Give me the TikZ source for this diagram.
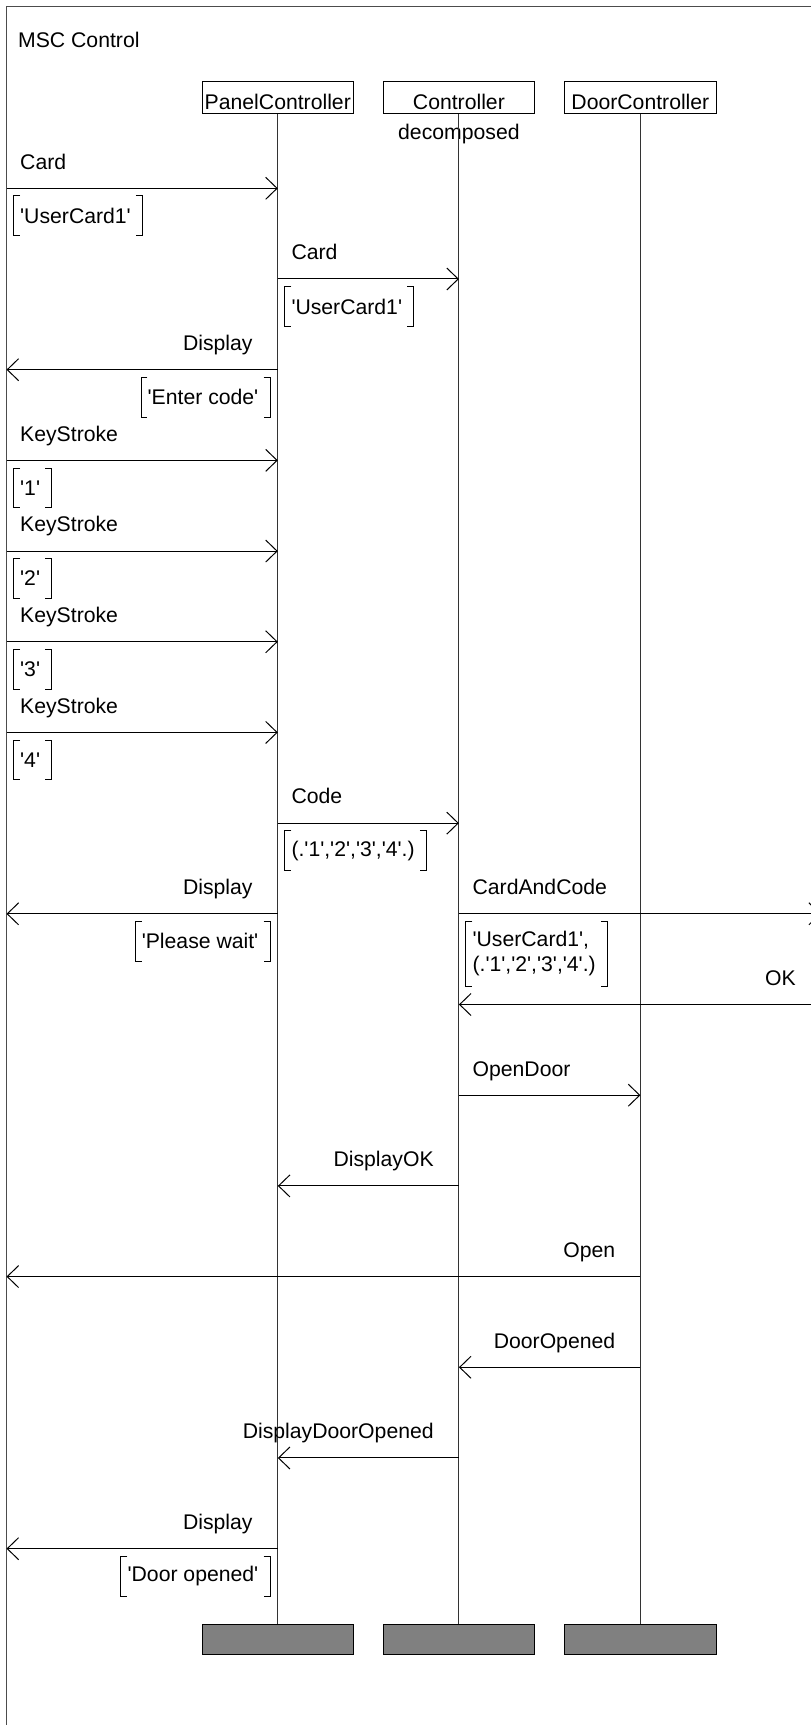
\documentclass[tikz,border=0pt]{standalone}
\usepackage{fontspec}
\setmainfont{Liberation Sans}[Ligatures=TeXOff]
\usetikzlibrary{arrows.meta}

\begin{document}
\begin{tikzpicture}[
    x=1pt, y=-1pt,
    font=\fontsize{21.2}{24.4}\selectfont,
    frame/.style={draw=black!70, line width=1pt},
    head/.style={rectangle, draw, line width=1pt, minimum width=151.5pt, minimum height=31.3pt, inner sep=0pt, text height=28pt, text depth=3.3pt},
    tail/.style={rectangle, draw, line width=1pt, fill=black!50, minimum width=151.5pt, minimum height=30pt, inner sep=0pt},
    lifeline/.style={draw=black!80, line width=1pt},
    msg/.style={draw, line width=1pt, -{Straight Barb[length=11.4pt, width=22pt]}},
    lbl/.style={inner sep=0pt},
    param/.style={rectangle, inner xsep=6.5pt, inner ysep=10pt, minimum height=39.3pt, align=left},
    bracket/.style={draw, line width=0.9pt}
]

\useasboundingbox (0,0) rectangle (811,1725);
\clip (0,0) rectangle (811,1725);

% Frame
\draw[frame] (6.5,6.5) rectangle (840,1760);
\node[lbl, anchor=base west] (title) at (18,47.5) {MSC Control};

% Instances
\node[head] (P) at (277.8,97.6) {PanelController};
\node[head] (C) at (458.9,97.6) {Controller};
\node[head] (D) at (640.4,97.6) {DoorController};
\node[lbl, anchor=base] (dec) at (458.9,139.5) {decomposed};

\node[tail] (P-end) at (277.8,1639.3) {};
\node[tail] (C-end) at (458.9,1639.3) {};
\node[tail] (D-end) at (640.4,1639.3) {};

\foreach \i in {P,C,D}
    \draw[lifeline] (\i) -- (\i-end);

% Message levels
\foreach \k in {0,...,15} {
    \pgfmathsetmacro{\y}{188.3+90.69*\k}
    \coordinate (E-\k) at (6.5,\y);
    \coordinate (P-\k) at (277.8,\y);
    \coordinate (C-\k) at (458.9,\y);
    \coordinate (D-\k) at (640.4,\y);
    \coordinate (R-\k) at (821,\y);
}

% Messages to the right
\foreach \k/\a/\b/\t in {0/E/P/Card, 1/P/C/Card, 3/E/P/KeyStroke, 4/E/P/KeyStroke,
        5/E/P/KeyStroke, 6/E/P/KeyStroke, 7/P/C/Code, 8/C/R/CardAndCode, 10/C/D/OpenDoor} {
    \draw[msg] (\a-\k) -- (\b-\k);
    \node[lbl, anchor=base west] (mr-\k) at ([xshift=13.5, yshift=19.2]\a-\k) {\t};
}

% Messages to the left
\foreach \k/\a/\b/\t in {2/P/E/Display, 8/P/E/Display, 9/R/C/OK, 11/C/P/DisplayOK,
        12/D/E/Open, 13/D/C/DoorOpened, 14/C/P/DisplayDoorOpened, 15/P/E/Display} {
    \draw[msg] (\a-\k) -- (\b-\k);
    \node[lbl, anchor=base east] (ml-\k) at ([xshift=-25, yshift=19.2]\a-\k) {\t};
}

% Parameters
\foreach \k/\a/\t in {0/E/{'UserCard1'}, 1/P/{'UserCard1'}, 3/E/{'1'}, 4/E/{'2'}, 5/E/{'3'},
        6/E/{'4'}, 7/P/{(.'1','2','3','4'.)}, 8/C/{'UserCard1',\\(.'1','2','3','4'.)}} {
    \node[param, anchor=north west] (pr-\k) at ([xshift=7, yshift=-7.6]\a-\k) {\t};
    \draw[bracket] ([xshift=6.5]pr-\k.north west) -- (pr-\k.north west) -- (pr-\k.south west) -- ([xshift=6.5]pr-\k.south west);
    \draw[bracket] ([xshift=-1.5]pr-\k.north east) -- ([xshift=5]pr-\k.north east) -- ([xshift=5]pr-\k.south east) -- ([xshift=-1.5]pr-\k.south east);
}

\foreach \k/\a/\t in {2/P/{'Enter code'}, 8/P/{'Please wait'}, 15/P/{'Door opened'}} {
    \node[param, anchor=north east] (pl-\k) at ([xshift=-12.8, yshift=-7.6]\a-\k) {\t};
    \draw[bracket] ([xshift=6.5]pl-\k.north west) -- (pl-\k.north west) -- (pl-\k.south west) -- ([xshift=6.5]pl-\k.south west);
    \draw[bracket] ([xshift=-1.5]pl-\k.north east) -- ([xshift=5]pl-\k.north east) -- ([xshift=5]pl-\k.south east) -- ([xshift=-1.5]pl-\k.south east);
}

\end{tikzpicture}
\end{document}
